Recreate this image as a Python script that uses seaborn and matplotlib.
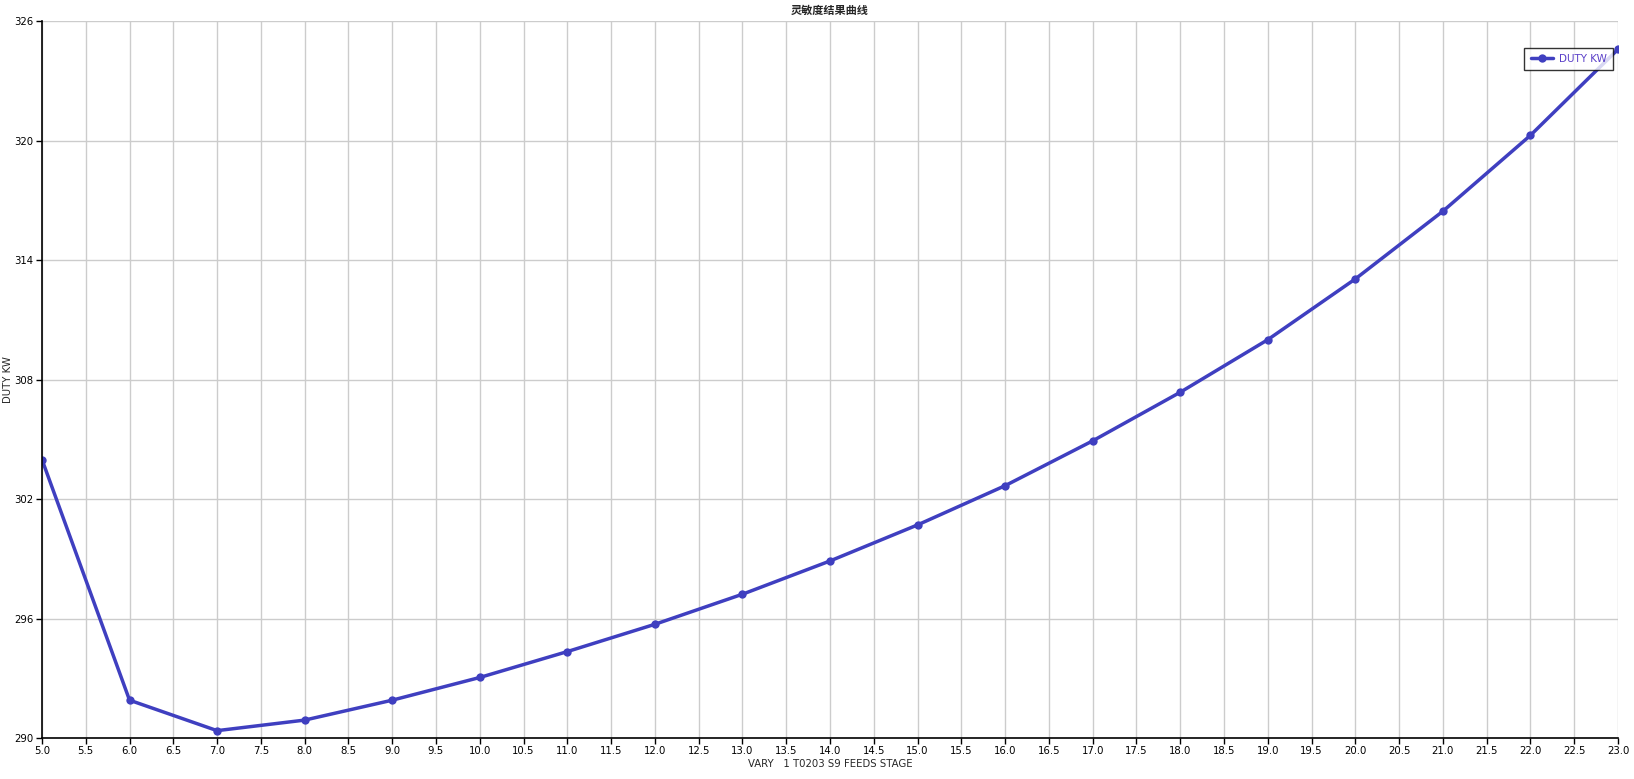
import numpy as np
import pandas as pd
import matplotlib
matplotlib.use("Agg")
import matplotlib.pyplot as plt
import seaborn as sns

# feed stage vs duty
stages = [5, 6, 7, 8, 9, 10, 11, 12, 13, 14, 15, 16, 17, 18, 19, 20, 21, 22, 23]
duty_kw = [303.98, 291.9, 290.37, 290.9, 291.9, 293.04, 294.34, 295.71, 297.22,
           298.89, 300.70, 302.67, 304.92, 307.36, 310.0, 313.05, 316.45, 320.26, 324.58]
x_ticks = np.arange(5.0, 23.01, 0.5)
y_ticks = [290, 296, 302, 308, 314, 320, 326]

df = pd.DataFrame({"stage": stages, "duty": duty_kw})

sns.set_style("white")
plt.rcParams['font.family'] = ['DejaVu Sans', 'Noto Sans CJK SC']

line_color = "#3f3fc0"

fig = plt.figure(figsize=(16.34, 7.79), dpi=100)
ax = fig.add_axes([0.0257, 0.0526, 0.9645, 0.9204])

sns.lineplot(data=df, x="stage", y="duty", ax=ax, color=line_color,
             linewidth=2.5, marker="o", markersize=6, markeredgewidth=0,
             label="DUTY KW")

ax.set_xlim(5, 23)
ax.set_ylim(290, 326)
ax.set_xticks(x_ticks)
ax.set_xticklabels([f"{v:.1f}" for v in x_ticks], fontsize=7.3)
ax.set_yticks(y_ticks)
ax.set_yticklabels([str(v) for v in y_ticks], fontsize=7.3)
ax.grid(True, color="#cccccc", linewidth=1.0)
ax.set_axisbelow(True)

for side in ["top", "right"]:
    ax.spines[side].set_visible(False)
for side in ["left", "bottom"]:
    ax.spines[side].set_color("black")
    ax.spines[side].set_linewidth(1.2)
ax.tick_params(axis="both", direction="out", length=4, width=1, colors="black",
               pad=2, bottom=True, left=True)

ax.set_xlabel("VARY   1 T0203 S9 FEEDS STAGE", fontsize=7.3, labelpad=2)
ax.set_ylabel("DUTY KW", fontsize=7.3)
ax.yaxis.set_label_coords(-0.0185, 0.5)
ax.set_title("灵敏度结果曲线", fontsize=8, fontweight="bold", pad=5,
             family=['Noto Sans CJK SC', 'DejaVu Sans'])

leg = ax.legend(loc="upper right", bbox_to_anchor=(1.0, 0.97), fontsize=7.5,
                frameon=True, fancybox=False, handlelength=2.2, borderpad=0.6,
                handletextpad=0.5)
leg.get_frame().set_edgecolor("black")
leg.get_frame().set_linewidth(1.0)
for t in leg.get_texts():
    t.set_color("#5a3fc8")

fig.savefig("out.png", dpi=100)
